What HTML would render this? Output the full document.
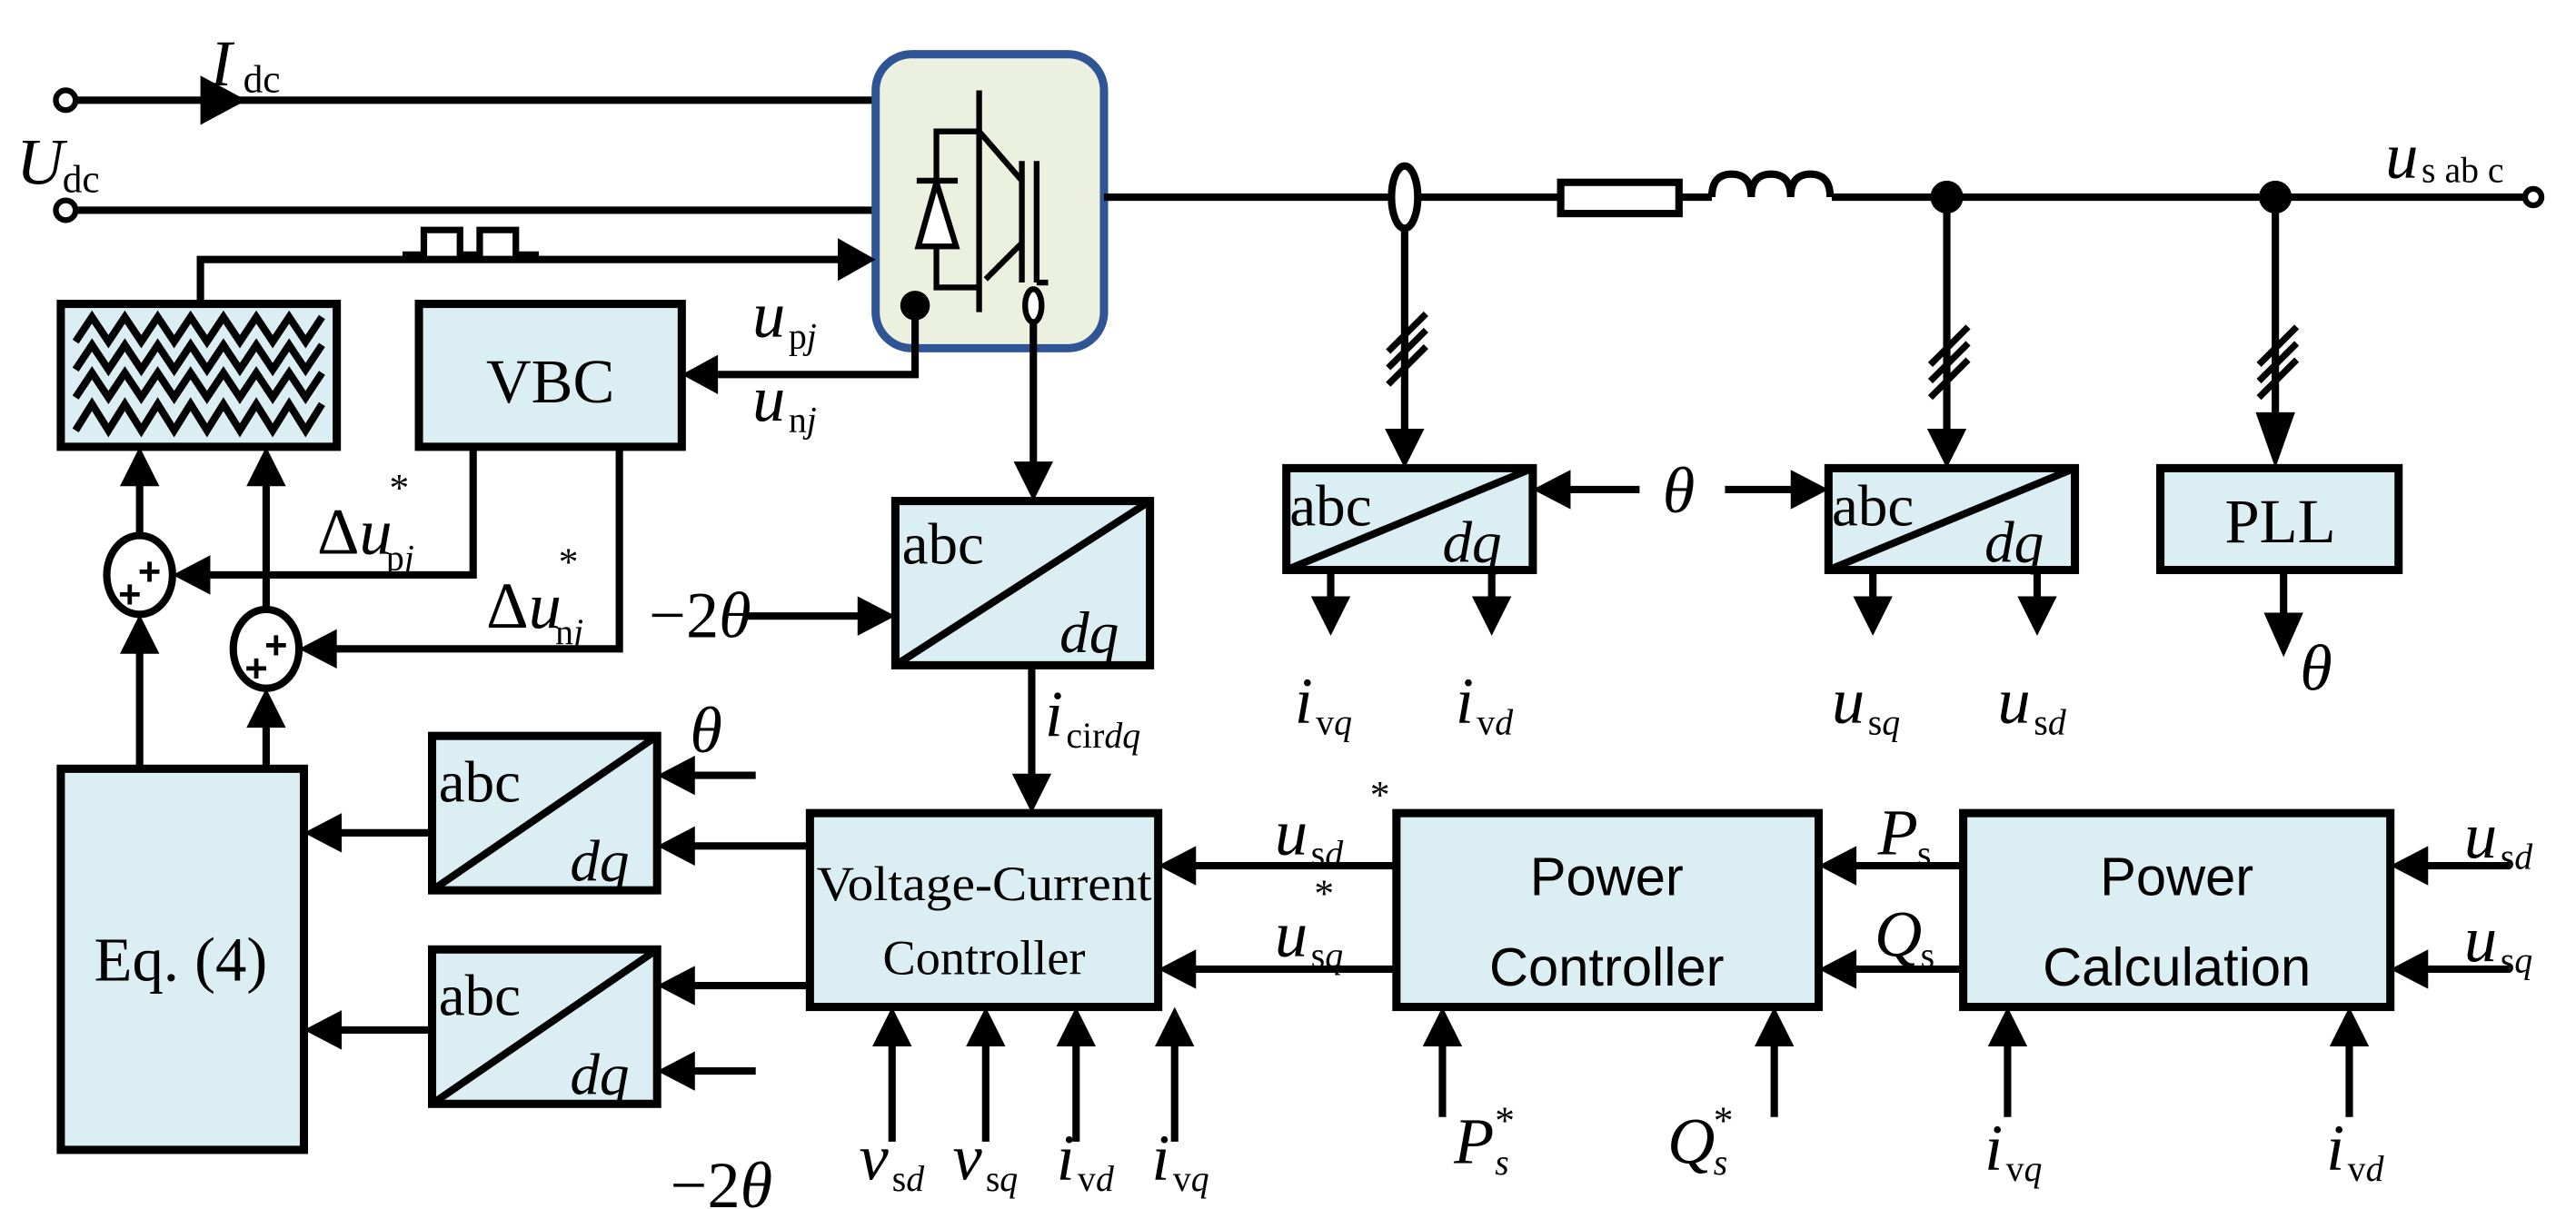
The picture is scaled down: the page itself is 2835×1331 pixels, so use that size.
<!DOCTYPE html>
<html><head><meta charset="utf-8"><style>
html,body{margin:0;padding:0;background:#fff}
svg{display:block}
text{font-family:"Liberation Serif",serif;fill:#000}
.i{font-style:italic}
.s{font-family:"Liberation Sans",sans-serif}
</style></head><body>
<svg width="2835" height="1331" viewBox="0 0 1568 736" preserveAspectRatio="none" xmlns="http://www.w3.org/2000/svg">
<g stroke="#000" stroke-width="4.5" fill="none">
<line x1="46" y1="61" x2="533" y2="61"/>
<line x1="46" y1="128" x2="533" y2="128"/>
<circle cx="40" cy="61" r="6" fill="#fff" stroke-width="3.5"/>
<circle cx="40" cy="128" r="6" fill="#fff" stroke-width="3.5"/>
<polyline points="245,155 258,155 258,140 280,140 280,155 292,155 292,140 314,140 314,155 328,155" stroke-width="4"/>
<polyline points="122,185 122,158 512,158"/>
<rect x="533" y="33" width="139" height="179" rx="22" fill="#ebf1de" stroke="#2f5597" stroke-width="5"/>
<g stroke-width="3.5">
<line x1="596" y1="55" x2="596" y2="190"/>
<polyline points="596,80 570,80 570,175 596,175"/>
<line x1="596" y1="80" x2="622" y2="110"/>
<line x1="622" y1="98" x2="622" y2="172"/>
<line x1="631" y1="98" x2="631" y2="172"/>
<line x1="631" y1="172" x2="638" y2="172"/>
<line x1="622" y1="148" x2="600" y2="170"/>
<line x1="558" y1="110" x2="583" y2="110"/>
<polygon points="570,111 559,150 582,150" fill="#fff"/>
</g>
<line x1="672" y1="120" x2="950" y2="120"/>
<line x1="1022" y1="120" x2="1042" y2="120"/>
<line x1="1115" y1="120" x2="1538" y2="120"/>
<circle cx="1542" cy="120" r="5" fill="#fff" stroke-width="3.5"/>
<ellipse cx="855" cy="120" rx="8" ry="19" fill="#fff"/>
<rect x="950" y="111" width="72" height="19" fill="#fff"/>
<path d="M1042,120 q0,-14 12,-14 q12,0 12,14 q0,-14 12,-14 q12,0 12,14 q0,-14 12,-14 q12,0 12,14"/>
<line x1="855" y1="139" x2="855" y2="262"/>
<line x1="1185" y1="120" x2="1185" y2="262"/>
<line x1="1385" y1="120" x2="1385" y2="252"/>
<g stroke-width="4">
<line x1="845" y1="214" x2="868" y2="191"/><line x1="845" y1="224" x2="868" y2="201"/><line x1="845" y1="234" x2="868" y2="211"/>
<line x1="1175" y1="222" x2="1198" y2="199"/><line x1="1175" y1="232" x2="1198" y2="209"/><line x1="1175" y1="242" x2="1198" y2="219"/>
<line x1="1375" y1="222" x2="1398" y2="199"/><line x1="1375" y1="232" x2="1398" y2="209"/><line x1="1375" y1="242" x2="1398" y2="219"/>
</g>
<g fill="#daeef3" stroke-width="5">
<rect x="37" y="185" width="168" height="87"/>
<rect x="255" y="185" width="160" height="87"/>
<rect x="545" y="305" width="155" height="100"/>
<rect x="783" y="285" width="150" height="62"/>
<rect x="1113" y="285" width="150" height="62"/>
<rect x="1315" y="285" width="145" height="62"/>
<rect x="37" y="468" width="148" height="232"/>
<rect x="263" y="448" width="137" height="94"/>
<rect x="263" y="578" width="137" height="94"/>
<rect x="493" y="495" width="212" height="118"/>
<rect x="850" y="495" width="257" height="118"/>
<rect x="1195" y="495" width="260" height="118"/>
</g>
<line x1="545" y1="405" x2="700" y2="305"/>
<line x1="783" y1="347" x2="933" y2="285"/>
<line x1="1113" y1="347" x2="1263" y2="285"/>
<line x1="263" y1="542" x2="400" y2="448"/>
<line x1="263" y1="672" x2="400" y2="578"/>
<g stroke-width="4.5">
<polyline points="46,208 56,193 66,208 76,193 86,208 96,193 106,208 116,193 126,208 136,193 146,208 156,193 166,208 176,193 186,208 196,193"/>
<polyline points="46,225 56,210 66,225 76,210 86,225 96,210 106,225 116,210 126,225 136,210 146,225 156,210 166,225 176,210 186,225 196,210"/>
<polyline points="46,242 56,227 66,242 76,227 86,242 96,227 106,242 116,227 126,242 136,227 146,242 156,227 166,242 176,227 186,242 196,227"/>
<polyline points="46,262 56,246 66,262 76,246 86,262 96,246 106,262 116,246 126,262 136,246 146,262 156,246 166,262 176,246 186,262 196,246"/>
</g>
<polyline points="557,190 557,228 437,228"/>
<line x1="629" y1="196" x2="629" y2="283"/>
<line x1="455" y1="375" x2="523" y2="375"/>
<line x1="628" y1="405" x2="628" y2="473"/>
<polyline points="288,272 288,350 127,350"/>
<polyline points="377,272 377,395 204,395"/>
<ellipse cx="85" cy="350" rx="20" ry="24"/>
<ellipse cx="162" cy="395" rx="20" ry="24"/>
<line x1="85" y1="326" x2="85" y2="294"/>
<line x1="162" y1="371" x2="162" y2="294"/>
<line x1="85" y1="468" x2="85" y2="396"/>
<line x1="162" y1="468" x2="162" y2="441"/>
<line x1="263" y1="507" x2="207" y2="507"/>
<line x1="263" y1="627" x2="207" y2="627"/>
<line x1="460" y1="472" x2="422" y2="472"/>
<line x1="493" y1="515" x2="422" y2="515"/>
<line x1="493" y1="600" x2="422" y2="600"/>
<line x1="460" y1="652" x2="422" y2="652"/>
<line x1="543" y1="695" x2="543" y2="635"/>
<line x1="600" y1="695" x2="600" y2="635"/>
<line x1="655" y1="695" x2="655" y2="635"/>
<line x1="715" y1="695" x2="715" y2="635"/>
<line x1="850" y1="527" x2="727" y2="527"/>
<line x1="850" y1="590" x2="727" y2="590"/>
<line x1="1195" y1="527" x2="1129" y2="527"/>
<line x1="1195" y1="590" x2="1129" y2="590"/>
<line x1="1528" y1="527" x2="1477" y2="527"/>
<line x1="1528" y1="590" x2="1477" y2="590"/>
<line x1="878" y1="680" x2="878" y2="635"/>
<line x1="1080" y1="680" x2="1080" y2="635"/>
<line x1="1222" y1="680" x2="1222" y2="635"/>
<line x1="1430" y1="680" x2="1430" y2="635"/>
<line x1="810" y1="347" x2="810" y2="365"/>
<line x1="908" y1="347" x2="908" y2="365"/>
<line x1="1140" y1="347" x2="1140" y2="365"/>
<line x1="1240" y1="347" x2="1240" y2="365"/>
<line x1="1390" y1="347" x2="1390" y2="375"/>
<line x1="998" y1="298" x2="955" y2="298"/>
<line x1="1050" y1="298" x2="1091" y2="298"/>
</g>
<g fill="#000">
<circle cx="557" cy="186" r="9"/>
<circle cx="1185" cy="120" r="10"/>
<circle cx="1385" cy="120" r="10"/>
</g>
<ellipse cx="629" cy="186" rx="5" ry="10" fill="#fff" stroke="#000" stroke-width="3.5"/>
<g fill="#000">
<polygon points="150,61 122,46 122,76"/>
<polygon points="533,158 510,145 510,171"/>
<polygon points="415,228 437,216 437,240"/>
<polygon points="629,305 617,281 641,281"/>
<polygon points="545,375 522,363 522,387"/>
<polygon points="628,495 616,471 640,471"/>
<polygon points="105,350 128,338 128,362"/>
<polygon points="182,395 205,383 205,407"/>
<polygon points="85,272 73,296 97,296"/>
<polygon points="162,272 150,296 174,296"/>
<polygon points="85,374 73,398 97,398"/>
<polygon points="162,419 150,443 174,443"/>
<polygon points="185,507 208,495 208,519"/>
<polygon points="185,627 208,615 208,639"/>
<polygon points="400,472 423,460 423,484"/>
<polygon points="400,515 423,503 423,527"/>
<polygon points="400,600 423,588 423,612"/>
<polygon points="400,652 423,640 423,664"/>
<polygon points="543,613 531,637 555,637"/>
<polygon points="600,613 588,637 612,637"/>
<polygon points="655,613 643,637 667,637"/>
<polygon points="715,613 703,637 727,637"/>
<polygon points="705,527 728,515 728,539"/>
<polygon points="705,590 728,578 728,602"/>
<polygon points="1107,527 1130,515 1130,539"/>
<polygon points="1107,590 1130,578 1130,602"/>
<polygon points="1455,527 1478,515 1478,539"/>
<polygon points="1455,590 1478,578 1478,602"/>
<polygon points="878,613 866,637 890,637"/>
<polygon points="1080,613 1068,637 1092,637"/>
<polygon points="1222,613 1210,637 1234,637"/>
<polygon points="1430,613 1418,637 1442,637"/>
<polygon points="855,285 843,261 867,261"/>
<polygon points="1185,285 1173,261 1197,261"/>
<polygon points="1385,285 1373,251 1397,251"/>
<polygon points="810,387 798,363 822,363"/>
<polygon points="908,387 896,363 920,363"/>
<polygon points="1140,387 1128,363 1152,363"/>
<polygon points="1240,387 1228,363 1252,363"/>
<polygon points="1390,400 1378,373 1402,373"/>
<polygon points="933,298 956,286 956,310"/>
<polygon points="1113,298 1090,286 1090,310"/>
</g>
<g font-weight="bold" font-size="24">
<text class="s" x="72" y="370">+</text>
<text class="s" x="84" y="356">+</text>
<text class="s" x="149" y="415">+</text>
<text class="s" x="161" y="401">+</text>
</g>
<g font-size="40">
<text x="128" y="52" class="i">I</text><text x="148" y="56" font-size="24">dc</text>
<text x="10" y="112" class="i">U</text><text x="38" y="117" font-size="24">dc</text>
<text x="1452" y="108" class="i">u</text><text x="1474" y="111" font-size="22">s ab c</text>
<text x="458" y="205" class="i">u</text><text x="480" y="212" font-size="22">p<tspan class="i">j</tspan></text>
<text x="458" y="256" class="i">u</text><text x="480" y="263" font-size="22">n<tspan class="i">j</tspan></text>
<text x="193" y="337">Δ<tspan class="i">u</tspan></text><text x="235" y="347" font-size="22">p<tspan class="i">j</tspan></text><text x="237" y="305" font-size="24">*</text>
<text x="296" y="382">Δ<tspan class="i">u</tspan></text><text x="338" y="392" font-size="22">n<tspan class="i">j</tspan></text><text x="340" y="350" font-size="24">*</text>
<text x="395" y="388">−2<tspan class="i">θ</tspan></text>
<text x="408" y="735">−2<tspan class="i">θ</tspan></text>
<text x="420" y="458" class="i">θ</text>
<text x="1012" y="312" class="i">θ</text>
<text x="1400" y="420" class="i">θ</text>
<text x="636" y="448" class="i">i</text><text x="649" y="455" font-size="22">cir<tspan class="i">dq</tspan></text>
<text x="788" y="440" class="i">i</text><text x="801" y="447" font-size="22">v<tspan class="i">q</tspan></text>
<text x="886" y="440" class="i">i</text><text x="899" y="447" font-size="22">v<tspan class="i">d</tspan></text>
<text x="1115" y="440" class="i">u</text><text x="1137" y="447" font-size="22">s<tspan class="i">q</tspan></text>
<text x="1216" y="440" class="i">u</text><text x="1238" y="447" font-size="22">s<tspan class="i">d</tspan></text>
<text x="776" y="520" class="i">u</text><text x="798" y="527" font-size="22">s<tspan class="i">d</tspan></text><text x="834" y="492" font-size="24">*</text>
<text x="776" y="582" class="i">u</text><text x="798" y="589" font-size="22">s<tspan class="i">q</tspan></text><text x="800" y="552" font-size="24">*</text>
<text x="1143" y="520" class="i">P</text><text x="1167" y="527" font-size="22">s</text>
<text x="1141" y="582" class="i">Q</text><text x="1169" y="589" font-size="22">s</text>
<text x="1500" y="522" class="i">u</text><text x="1522" y="529" font-size="22">s<tspan class="i">d</tspan></text>
<text x="1500" y="585" class="i">u</text><text x="1522" y="592" font-size="22">s<tspan class="i">q</tspan></text>
<text x="885" y="708" class="i">P</text><text x="910" y="715" font-size="22" class="i">s</text><text x="910" y="690" font-size="24">*</text>
<text x="1015" y="708" class="i">Q</text><text x="1043" y="715" font-size="22" class="i">s</text><text x="1043" y="690" font-size="24">*</text>
<text x="1208" y="712" class="i">i</text><text x="1221" y="719" font-size="22">v<tspan class="i">q</tspan></text>
<text x="1416" y="712" class="i">i</text><text x="1429" y="719" font-size="22">v<tspan class="i">d</tspan></text>
<text x="523" y="718" class="i">v</text><text x="543" y="725" font-size="22">s<tspan class="i">d</tspan></text>
<text x="580" y="718" class="i">v</text><text x="600" y="725" font-size="22">s<tspan class="i">q</tspan></text>
<text x="643" y="718" class="i">i</text><text x="656" y="725" font-size="22">v<tspan class="i">d</tspan></text>
<text x="701" y="718" class="i">i</text><text x="714" y="725" font-size="22">v<tspan class="i">q</tspan></text>
</g>
<g font-size="38">
<text x="335" y="245" text-anchor="middle">VBC</text>
<text x="1388" y="330" text-anchor="middle">PLL</text>
<text x="110" y="597" text-anchor="middle">Eq. (4)</text>
<text x="599" y="548" text-anchor="middle" font-size="30" textLength="204" lengthAdjust="spacingAndGlyphs">Voltage-Current</text>
<text x="599" y="593" text-anchor="middle" font-size="30">Controller</text>
<text class="s" x="978" y="545" text-anchor="middle" font-size="33">Power</text>
<text class="s" x="978" y="600" text-anchor="middle" font-size="33">Controller</text>
<text class="s" x="1325" y="545" text-anchor="middle" font-size="33">Power</text>
<text class="s" x="1325" y="600" text-anchor="middle" font-size="33">Calculation</text>
</g>
<g font-size="36">
<text x="549" y="343">abc</text><text x="645" y="397" class="i">dq</text>
<text x="785" y="320">abc</text><text x="878" y="342" class="i">dq</text>
<text x="1115" y="320">abc</text><text x="1208" y="342" class="i">dq</text>
<text x="267" y="488">abc</text><text x="347" y="536" class="i">dq</text>
<text x="267" y="618">abc</text><text x="347" y="666" class="i">dq</text>
</g>
</svg>
</body></html>
